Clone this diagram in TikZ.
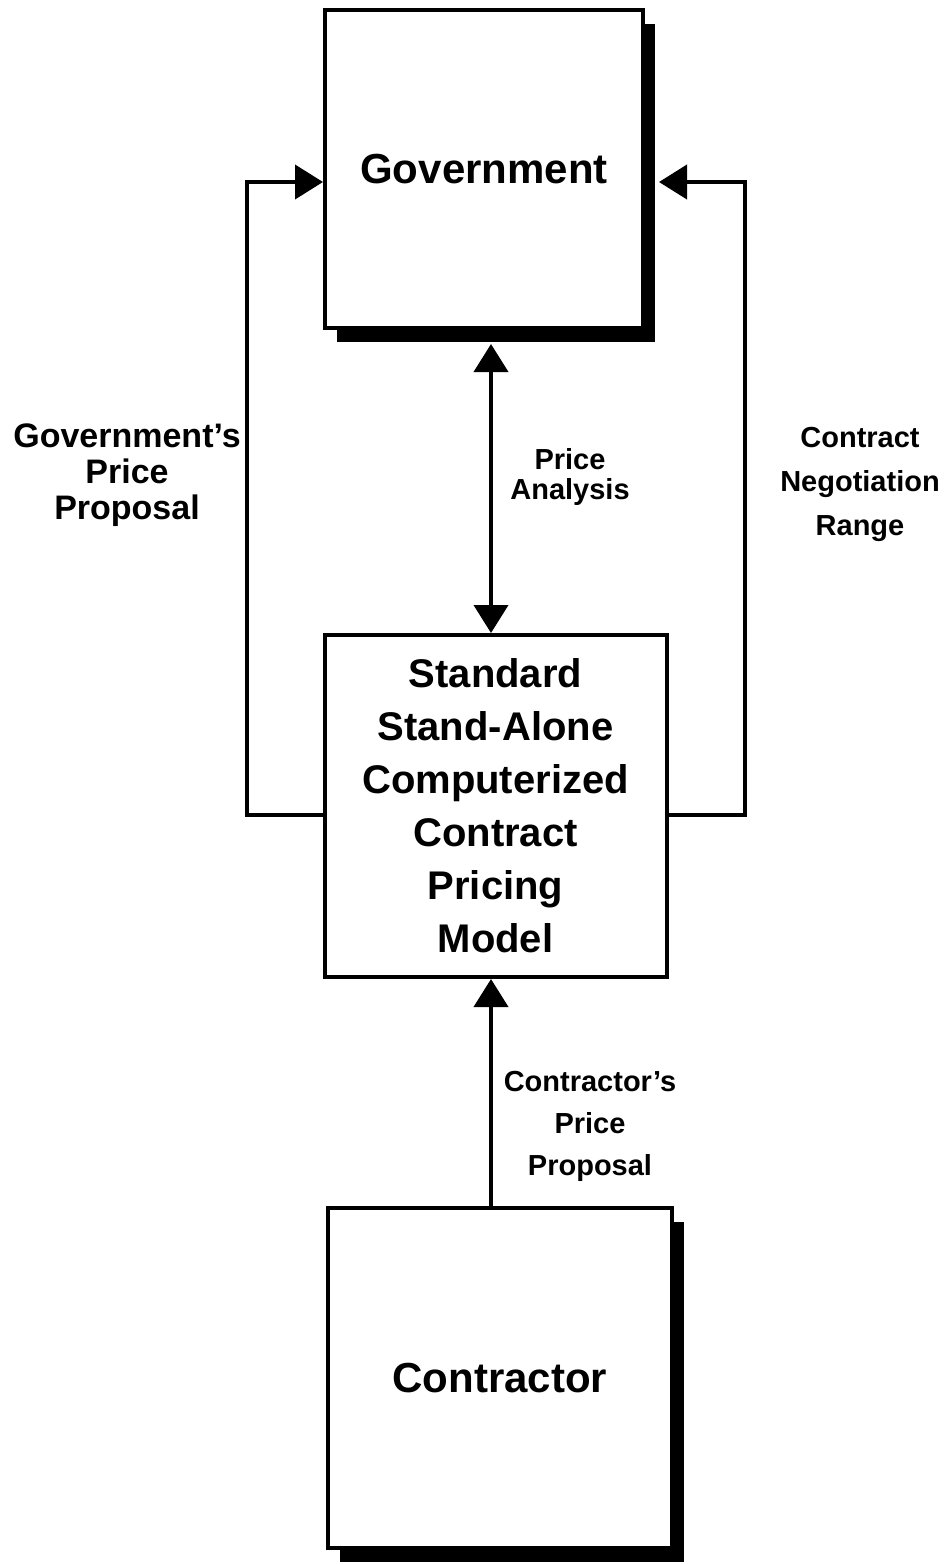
\documentclass[tikz,border=0pt]{standalone}
\usepackage{fontspec}
\setmainfont{Liberation Sans}
\usetikzlibrary{positioning,shadows,arrows.meta,calc}
\tikzstyle{PartyBox}=[rectangle, draw=black, fill=white, line width=2pt, minimum width=159pt, minimum height=159pt, drop shadow={shadow xshift=6pt, shadow yshift=-7pt, fill=black, opacity=1}, font=\bfseries\fontsize{21}{25}\selectfont]
\tikzstyle{ModelBox}=[rectangle, draw=black, fill=white, line width=2pt, minimum width=171pt, minimum height=171pt, align=center, font=\bfseries\fontsize{20}{26.5}\selectfont]
\tikzstyle{Tag}=[align=center, inner sep=0pt, font=\bfseries\fontsize{14.5}{17.5}\selectfont]
\tikzstyle{Link}=[-{Triangle[length=14pt,width=17pt]}, line width=2pt]
\tikzstyle{LinkBoth}=[{Triangle[length=14pt,width=17pt]}-{Triangle[length=14pt,width=17pt]}, line width=2pt]

\begin{document}
\begin{tikzpicture}[x=0.5pt, y=-0.5pt]
			\useasboundingbox (0,0) rectangle (948,1564);
			%Nodes
			\node[PartyBox]		(government)	at (484,169)		{Government};
			\node[ModelBox]		(model)		at (495.5,806)		{Standard\\Stand-Alone\\Computerized\\Contract\\Pricing\\Model};
			\node[PartyBox, minimum width=172pt, minimum height=170pt]	(contractor)	at (500,1378)	{Contractor};

			\coordinate (axis) at (491,0);
			\coordinate (gov_in_l) at ($(government.west)+(0,13)$);
			\coordinate (gov_in_r) at ($(government.east)+(14,13)$);

			\node[Tag, font=\bfseries\fontsize{17}{18}\selectfont]	(gov_offer)	at (127,475)	{Government's\\Price\\Proposal};
			\node[Tag, font=\bfseries\fontsize{14.5}{15}\selectfont]	(analysis)	at (570,477)	{Price\\Analysis};
			\node[Tag, font=\bfseries\fontsize{14.5}{22}\selectfont]	(range)	at (860,484)	{Contract\\Negotiation\\Range};
			\node[Tag, font=\bfseries\fontsize{14.5}{21}\selectfont]	(firm_offer)	at (590,1126)	{Contractor's\\Price\\Proposal};

			%Lines
			\draw[Link] ($(model.west)+(0,9)$) -- ++(-76,0) |- (gov_in_l);
			\draw[Link] ($(model.east)+(0,9)$) -- ++(76,0) |- (gov_in_r);
			\draw[LinkBoth] ($(government.south -| axis)+(0,14)$) -- (model.north -| axis);
			\draw[Link] (contractor.north -| axis) -- (model.south -| axis);

\end{tikzpicture}
\end{document}
